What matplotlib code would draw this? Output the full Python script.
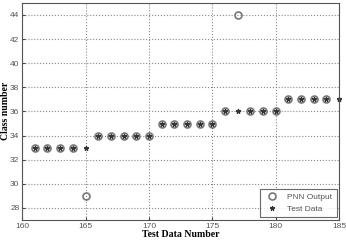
import matplotlib
matplotlib.use("Agg")
import matplotlib.pyplot as plt

test_x = [161, 162, 163, 164, 165, 166, 167, 168, 169, 170, 171, 172, 173, 174, 175,
          176, 177, 178, 179, 180, 181, 182, 183, 184, 185]
test_y = [33, 33, 33, 33, 33, 34, 34, 34, 34, 34, 35, 35, 35, 35, 35,
          36, 36, 36, 36, 36, 37, 37, 37, 37, 37]
pnn_x = [161, 162, 163, 164, 165, 166, 167, 168, 169, 170, 171, 172, 173, 174, 175,
         176, 177, 178, 179, 180, 181, 182, 183, 184]
pnn_y = [33, 33, 33, 33, 29, 34, 34, 34, 34, 34, 35, 35, 35, 35, 35,
         36, 44, 36, 36, 36, 37, 37, 37, 37]
x_ticks = [160, 165, 170, 175, 180, 185]
y_ticks = [28, 30, 32, 34, 36, 38, 40, 42, 44]

fig = plt.figure(figsize=(3.46, 2.42), dpi=100)
ax = fig.add_axes([0.064, 0.091, 0.916, 0.897])
ax.plot(pnn_x, pnn_y, 'o', mfc='none', mec='#777777', mew=1.2, ms=5, label='PNN Output')
ax.plot(test_x, test_y, '*', color='#333333', ms=3.5, mew=0.8, label='Test Data', clip_on=False)
ax.set_xlim(160, 185)
ax.set_ylim(27, 45)
ax.set_xticks(x_ticks)
ax.set_yticks(y_ticks)
ax.grid(True, linestyle=':', color='#888888', linewidth=0.8)
ax.tick_params(labelsize=6, direction='in', length=2, pad=2, colors='#444444', labelcolor='#555555')
for lab in ax.get_xticklabels() + ax.get_yticklabels():
    lab.set_family('Liberation Sans')
for s in ax.spines.values():
    s.set_color('#555555')
    s.set_linewidth(0.8)
ax.set_xlabel('Test Data Number', fontsize=7, fontweight='bold', family='Liberation Serif', labelpad=0)
fig.text(0.004, 0.54, 'Class number', rotation=90, va='center', ha='left',
         fontsize=7, fontweight='bold', family='Liberation Serif')
leg = ax.legend(loc='lower right', fontsize=6, frameon=True, fancybox=False,
                edgecolor='#444444', borderaxespad=0.3, handletextpad=0.8, borderpad=0.5,
                prop={'family': 'Liberation Sans', 'size': 6})
leg.get_frame().set_linewidth(0.8)
for t in leg.get_texts():
    t.set_color('#555555')
fig.savefig('out.png', dpi=100)
